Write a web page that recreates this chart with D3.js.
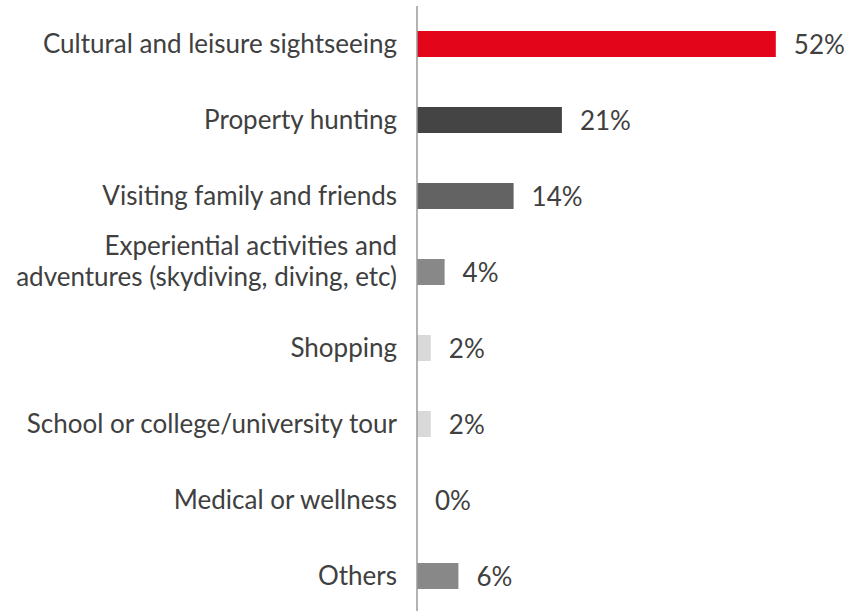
<!DOCTYPE html>
<html>
<head>
<meta charset="utf-8">
<script src="https://cdn.jsdelivr.net/npm/d3@7"></script>
<style>
  html, body { margin: 0; padding: 0; background: #fff; }
  svg { display: block; }
  text { font-family: "Source Sans Pro", Lato, "Noto Sans", sans-serif; fill: #404040; }
</style>
</head>
<body>
<svg id="chart" width="862" height="611"></svg>
<script>
const categories = [
  ["Cultural and leisure sightseeing"],
  ["Property hunting"],
  ["Visiting family and friends"],
  ["Experiential activities and", "adventures (skydiving, diving, etc)"],
  ["Shopping"],
  ["School or college/university tour"],
  ["Medical or wellness"],
  ["Others"]
];
const values = [52, 21, 14, 4, 2, 2, 0, 6];
const valueLabels = ["52%", "21%", "14%", "4%", "2%", "2%", "0%", "6%"];
const colors = ["#E30519", "#444444", "#636363", "#888888", "#D9D9D9", "#D9D9D9", "#888888", "#888888"];

const svg = d3.select("#chart");
const keys = categories.map(c => c.join(" "));

const y = d3.scaleBand().domain(keys).range([6, 614]).paddingInner(0.658).paddingOuter(0.329);
const x = d3.scaleLinear().domain([0, 100]).range([417, 417 + 690]);

const fs = 26;

svg.selectAll("rect.bar").data(values).join("rect")
  .attr("class", "bar")
  .attr("x", x(0))
  .attr("y", (d, i) => y(keys[i]))
  .attr("width", d => x(d) - x(0))
  .attr("height", y.bandwidth())
  .attr("fill", (d, i) => colors[i]);

// axis line
svg.append("line")
  .attr("x1", x(0)).attr("x2", x(0))
  .attr("y1", 6).attr("y2", 611)
  .attr("stroke", "#9a9a9a").attr("stroke-width", 1.5);

// category labels
const lab = svg.selectAll("text.cat").data(categories).join("text")
  .attr("class", "cat")
  .attr("text-anchor", "end")
  .style("font-size", fs + "px");
lab.each(function(lines, i) {
  const c = y(keys[i]) + y.bandwidth() / 2;
  const t = d3.select(this);
  if (lines.length === 1) {
    t.append("tspan").attr("x", x(0) - 20).attr("y", c + 8.5).text(lines[0]);
  } else {
    lines.forEach((l, j) => {
      t.append("tspan").attr("x", x(0) - 20).attr("y", c - 17.5 + j * 31.5).text(l);
    });
  }
});

// value labels
svg.selectAll("text.val").data(values).join("text")
  .attr("class", "val")
  .attr("x", d => x(d) + 18)
  .attr("y", (d, i) => y(keys[i]) + y.bandwidth() / 2 + 10)
  .style("font-size", fs + "px")
  .text((d, i) => valueLabels[i]);
</script>
</body>
</html>
